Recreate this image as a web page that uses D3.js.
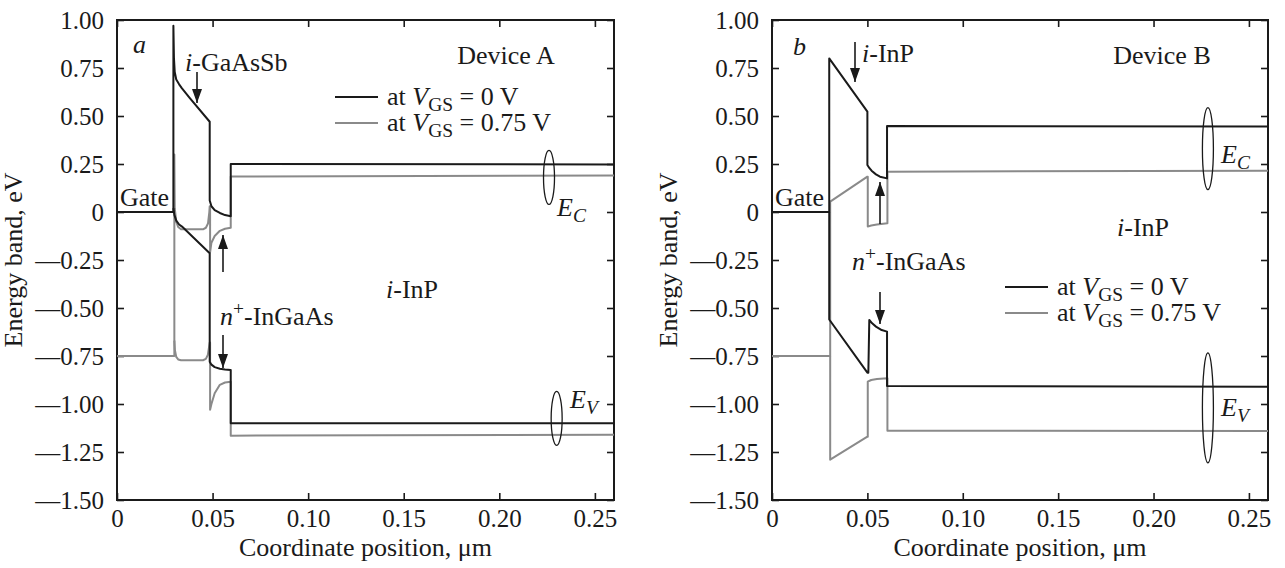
<!DOCTYPE html>
<html>
<head>
<meta charset="utf-8">
<script src="https://cdn.jsdelivr.net/npm/d3@7"></script>
<style>
  body { margin: 0; background: #fff; }
  svg, svg text { font-family: "Liberation Serif", "Times New Roman", Times, "DejaVu Serif", serif; }
  svg text { fill: #1a1a1a; }
</style>
</head>
<body>
<script>
//==========================================================//
//  DATA
//==========================================================//
var xTicks = [0, 0.05, 0.10, 0.15, 0.20, 0.25];
var yTicks = [1.00, 0.75, 0.50, 0.25, 0, -0.25, -0.50, -0.75, -1.00, -1.25, -1.50];

// Device A, V_GS = 0 V (black)
var aEc0 = [[0, 0], [0.0295, 0], [0.0295, 0.97], [0.0298, 0.80], [0.0302, 0.73], [0.031, 0.69], [0.0325, 0.665],
            [0.034, 0.644], [0.038, 0.595], [0.0485, 0.47], [0.0485, 0.06], [0.0494, 0.03], [0.0511, 0.01],
            [0.0538, -0.005], [0.0565, -0.016], [0.0595, -0.022], [0.0595, 0.25], [0.26, 0.248]];
var aEv0 = [[0.0295, 0.02], [0.0300, -0.015], [0.031, -0.045], [0.0325, -0.065], [0.034, -0.076], [0.0485, -0.215],
            [0.0485, -0.78], [0.0494, -0.795], [0.0511, -0.808], [0.0538, -0.816], [0.0565, -0.82], [0.0595, -0.823],
            [0.0595, -1.10], [0.26, -1.10]];
// Device A, V_GS = 0.75 V (gray)
var aEc75 = [[0, -0.75], [0.030, -0.75], [0.030, 0.30], [0.0302, 0.02], [0.031, -0.05], [0.032, -0.078], [0.0335, -0.09],
             [0.045, -0.09], [0.0465, -0.082], [0.0476, -0.06], [0.0483, 0.0], [0.0485, 0.03], [0.0487, 0.03],
             [0.0487, -0.21], [0.0494, -0.16], [0.0511, -0.125], [0.0538, -0.098], [0.0565, -0.087], [0.0595, -0.082],
             [0.0595, 0.185], [0.26, 0.19]];
var aEv75 = [[0.030, -0.67], [0.0303, -0.72], [0.031, -0.755], [0.032, -0.768], [0.0335, -0.772], [0.045, -0.772],
             [0.0465, -0.765], [0.0475, -0.745], [0.0482, -0.70], [0.0485, -0.68], [0.0487, -0.68], [0.0487, -1.03],
             [0.0494, -1.0], [0.0511, -0.944], [0.0538, -0.90], [0.0565, -0.888], [0.0595, -0.884], [0.0595, -1.165],
             [0.26, -1.16]];

// Device B, V_GS = 0 V (black)
var bEc0 = [[0, 0], [0.030, 0], [0.030, 0.80], [0.050, 0.523], [0.050, 0.245], [0.0511, 0.228], [0.0522, 0.215],
            [0.0545, 0.196], [0.0566, 0.184], [0.0603, 0.175], [0.0603, 0.448], [0.26, 0.445]];
var bEv0 = [[0.030, 0], [0.030, -0.56], [0.050, -0.837], [0.0505, -0.837], [0.051, -0.5625], [0.0525, -0.58],
            [0.0545, -0.597], [0.0575, -0.615], [0.0603, -0.623], [0.0603, -0.906], [0.26, -0.91]];
// Device B, V_GS = 0.75 V (gray)
var bEc75 = [[0, -0.75], [0.0305, -0.75], [0.0305, 0.054], [0.050, 0.184], [0.0502, 0.184], [0.0502, -0.076],
             [0.052, -0.07], [0.055, -0.065], [0.0605, -0.059], [0.0605, 0.21], [0.26, 0.215]];
var bEv75 = [[0.0305, -0.75], [0.0305, -1.29], [0.050, -1.17], [0.0502, -1.17], [0.0502, -0.884], [0.052, -0.875],
             [0.055, -0.87], [0.0605, -0.866], [0.0605, -1.139], [0.26, -1.14]];

//==========================================================//
//  SETUP
//==========================================================//
var W = 1285, H = 568;
var BLACK = "#1a1a1a", GRAY = "#8a8a8a";
var FS = 26, TICK_FS = 25;
var SERIF = "'Liberation Serif', 'Times New Roman', Times, 'DejaVu Serif', serif";

var svg = d3.select("body").append("svg")
    .attr("width", W)
    .attr("height", H)
    .attr("font-family", SERIF);

// arrow head, drawn along +x so orient=auto works
svg.append("defs").append("marker")
    .attr("id", "head")
    .attr("viewBox", "0 0 14 10")
    .attr("refX", 14).attr("refY", 5)
    .attr("markerWidth", 14).attr("markerHeight", 10)
    .attr("markerUnits", "userSpaceOnUse")
    .attr("orient", "auto")
    .append("path")
    .attr("d", "M0,0 L14,5 L0,10 Z")
    .attr("fill", BLACK);

function fmtY(d) {
    if (d === 0) return "0";
    return (d < 0 ? "\u2014" : "") + Math.abs(d).toFixed(2);
}
function fmtX(d) { return d === 0 ? "0" : d.toFixed(2); }

// builds one panel, returns scales + group
function makePanel(left, right) {
    var x = d3.scaleLinear().domain([0, 0.26]).range([left, right]);
    var y = d3.scaleLinear().domain([-1.5, 1.0]).range([500, 20]);
    var g = svg.append("g");

    g.append("g").attr("transform", "translate(0,500)")
        .call(d3.axisBottom(x).tickValues(xTicks).tickSize(-7).tickPadding(9).tickFormat(fmtX));
    g.append("g").attr("transform", "translate(0,20)")
        .call(d3.axisTop(x).tickValues(xTicks).tickSize(-7).tickFormat(""));
    g.append("g").attr("transform", "translate(" + left + ",0)")
        .call(d3.axisLeft(y).tickValues(yTicks).tickSize(-7).tickPadding(13).tickFormat(fmtY));
    g.append("g").attr("transform", "translate(" + right + ",0)")
        .call(d3.axisRight(y).tickValues(yTicks).tickSize(-7).tickFormat(""));

    g.selectAll(".domain").remove();
    g.selectAll("g").attr("font-family", SERIF);
    g.selectAll(".tick line").attr("stroke", BLACK).attr("stroke-width", 1.6);
    g.selectAll(".tick text").attr("font-size", TICK_FS).attr("fill", BLACK);

    g.append("rect")
        .attr("x", left).attr("y", 20)
        .attr("width", right - left).attr("height", 480)
        .attr("fill", "none").attr("stroke", BLACK).attr("stroke-width", 2);

    // axis titles
    g.append("text")
        .attr("x", (left + right) / 2).attr("y", 556)
        .attr("text-anchor", "middle").attr("font-size", FS)
        .text("Coordinate position, \u03bcm");
    g.append("text")
        .attr("transform", "translate(" + (left - 95) + ",260) rotate(-90)")
        .attr("text-anchor", "middle").attr("font-size", FS)
        .text("Energy band, eV");

    return {x: x, y: y, g: g};
}

function drawBand(p, data, color) {
    var line = d3.line()
        .x(function(d) { return p.x(d[0]); })
        .y(function(d) { return p.y(d[1]); });
    p.g.append("path")
        .datum(data)
        .attr("d", line)
        .attr("fill", "none")
        .attr("stroke", color)
        .attr("stroke-width", 2)
        .attr("stroke-linejoin", "round");
}

function label(p, px, py, parts, anchor) {
    var t = p.g.append("text")
        .attr("x", px).attr("y", py)
        .attr("font-size", FS)
        .attr("text-anchor", anchor || "start");
    parts.forEach(function(s) {
        var ts = t.append("tspan").text(s.t);
        if (s.i) ts.attr("font-style", "italic");
        if (s.sub) ts.attr("font-size", FS * 0.75).attr("dy", s.dy);
        else if (s.dy) ts.attr("dy", s.dy);
    });
    return t;
}

function arrow(p, x0, y0, x1, y1) {
    p.g.append("line")
        .attr("x1", x0).attr("y1", y0).attr("x2", x1).attr("y2", y1)
        .attr("stroke", BLACK).attr("stroke-width", 1.6)
        .attr("marker-end", "url(#head)");
}

function ellipse(p, cx, cy, ry) {
    p.g.append("ellipse")
        .attr("cx", p.x(cx)).attr("cy", p.y(cy))
        .attr("rx", 5.5).attr("ry", ry)
        .attr("fill", "none").attr("stroke", BLACK).attr("stroke-width", 1.3);
}

function legend(p, lx, ly) {
    [[BLACK, "0 V"], [GRAY, "0.75 V"]].forEach(function(r, i) {
        var yy = ly + i * 26;
        p.g.append("line")
            .attr("x1", lx).attr("x2", lx + 43).attr("y1", yy).attr("y2", yy)
            .attr("stroke", r[0]).attr("stroke-width", 2);
        label(p, lx + 52, yy + 8, [{t: "at "}, {t: "V", i: true}, {t: "GS", sub: true, dy: 6},
                                   {t: " = " + r[1], dy: -6}]);
    });
}

//==========================================================//
//  PANEL a  (Device A)
//==========================================================//
var pa = makePanel(117, 614);
drawBand(pa, aEc75, GRAY);
drawBand(pa, aEv75, GRAY);
drawBand(pa, aEc0, BLACK);
drawBand(pa, aEv0, BLACK);

label(pa, 133, 53, [{t: "a", i: true}]);
label(pa, 120, 206, [{t: "Gate"}]);
label(pa, 185, 71, [{t: "i", i: true}, {t: "-GaAsSb"}]);
arrow(pa, 197, 72, 197, 103);
label(pa, 506, 64, [{t: "Device A"}], "middle");
legend(pa, 335, 97);
label(pa, 220, 325, [{t: "n", i: true}, {t: "+", sub: true, dy: -10}, {t: "-InGaAs", dy: 10}]);
arrow(pa, 223, 272, 223, 235);
arrow(pa, 223, 335, 223, 368);
label(pa, 412, 298, [{t: "i", i: true}, {t: "-InP"}], "middle");
ellipse(pa, 0.226, 0.18, 27);
label(pa, 557, 216, [{t: "E", i: true}, {t: "C", i: true, sub: true, dy: 6}]);
ellipse(pa, 0.230, -1.075, 27);
label(pa, 570, 408, [{t: "E", i: true}, {t: "V", i: true, sub: true, dy: 6}]);

//==========================================================//
//  PANEL b  (Device B)
//==========================================================//
var pb = makePanel(772, 1268);
drawBand(pb, bEc75, GRAY);
drawBand(pb, bEv75, GRAY);
drawBand(pb, bEc0, BLACK);
drawBand(pb, bEv0, BLACK);

label(pb, 793, 55, [{t: "b", i: true}]);
label(pb, 775, 206, [{t: "Gate"}]);
label(pb, 862, 62, [{t: "i", i: true}, {t: "-InP"}]);
arrow(pb, 855, 42, 855, 82);
label(pb, 1162, 64, [{t: "Device B"}], "middle");
arrow(pb, 880, 224, 880, 182);
label(pb, 852, 270, [{t: "n", i: true}, {t: "+", sub: true, dy: -10}, {t: "-InGaAs", dy: 10}]);
arrow(pb, 880, 292, 880, 324);
label(pb, 1143, 236, [{t: "i", i: true}, {t: "-InP"}], "middle");
legend(pb, 1005, 287);
ellipse(pb, 0.2285, 0.33, 41);
label(pb, 1221, 163, [{t: "E", i: true}, {t: "C", i: true, sub: true, dy: 6}]);
ellipse(pb, 0.2285, -1.02, 55);
label(pb, 1221, 416, [{t: "E", i: true}, {t: "V", i: true, sub: true, dy: 6}]);
</script>
</body>
</html>
